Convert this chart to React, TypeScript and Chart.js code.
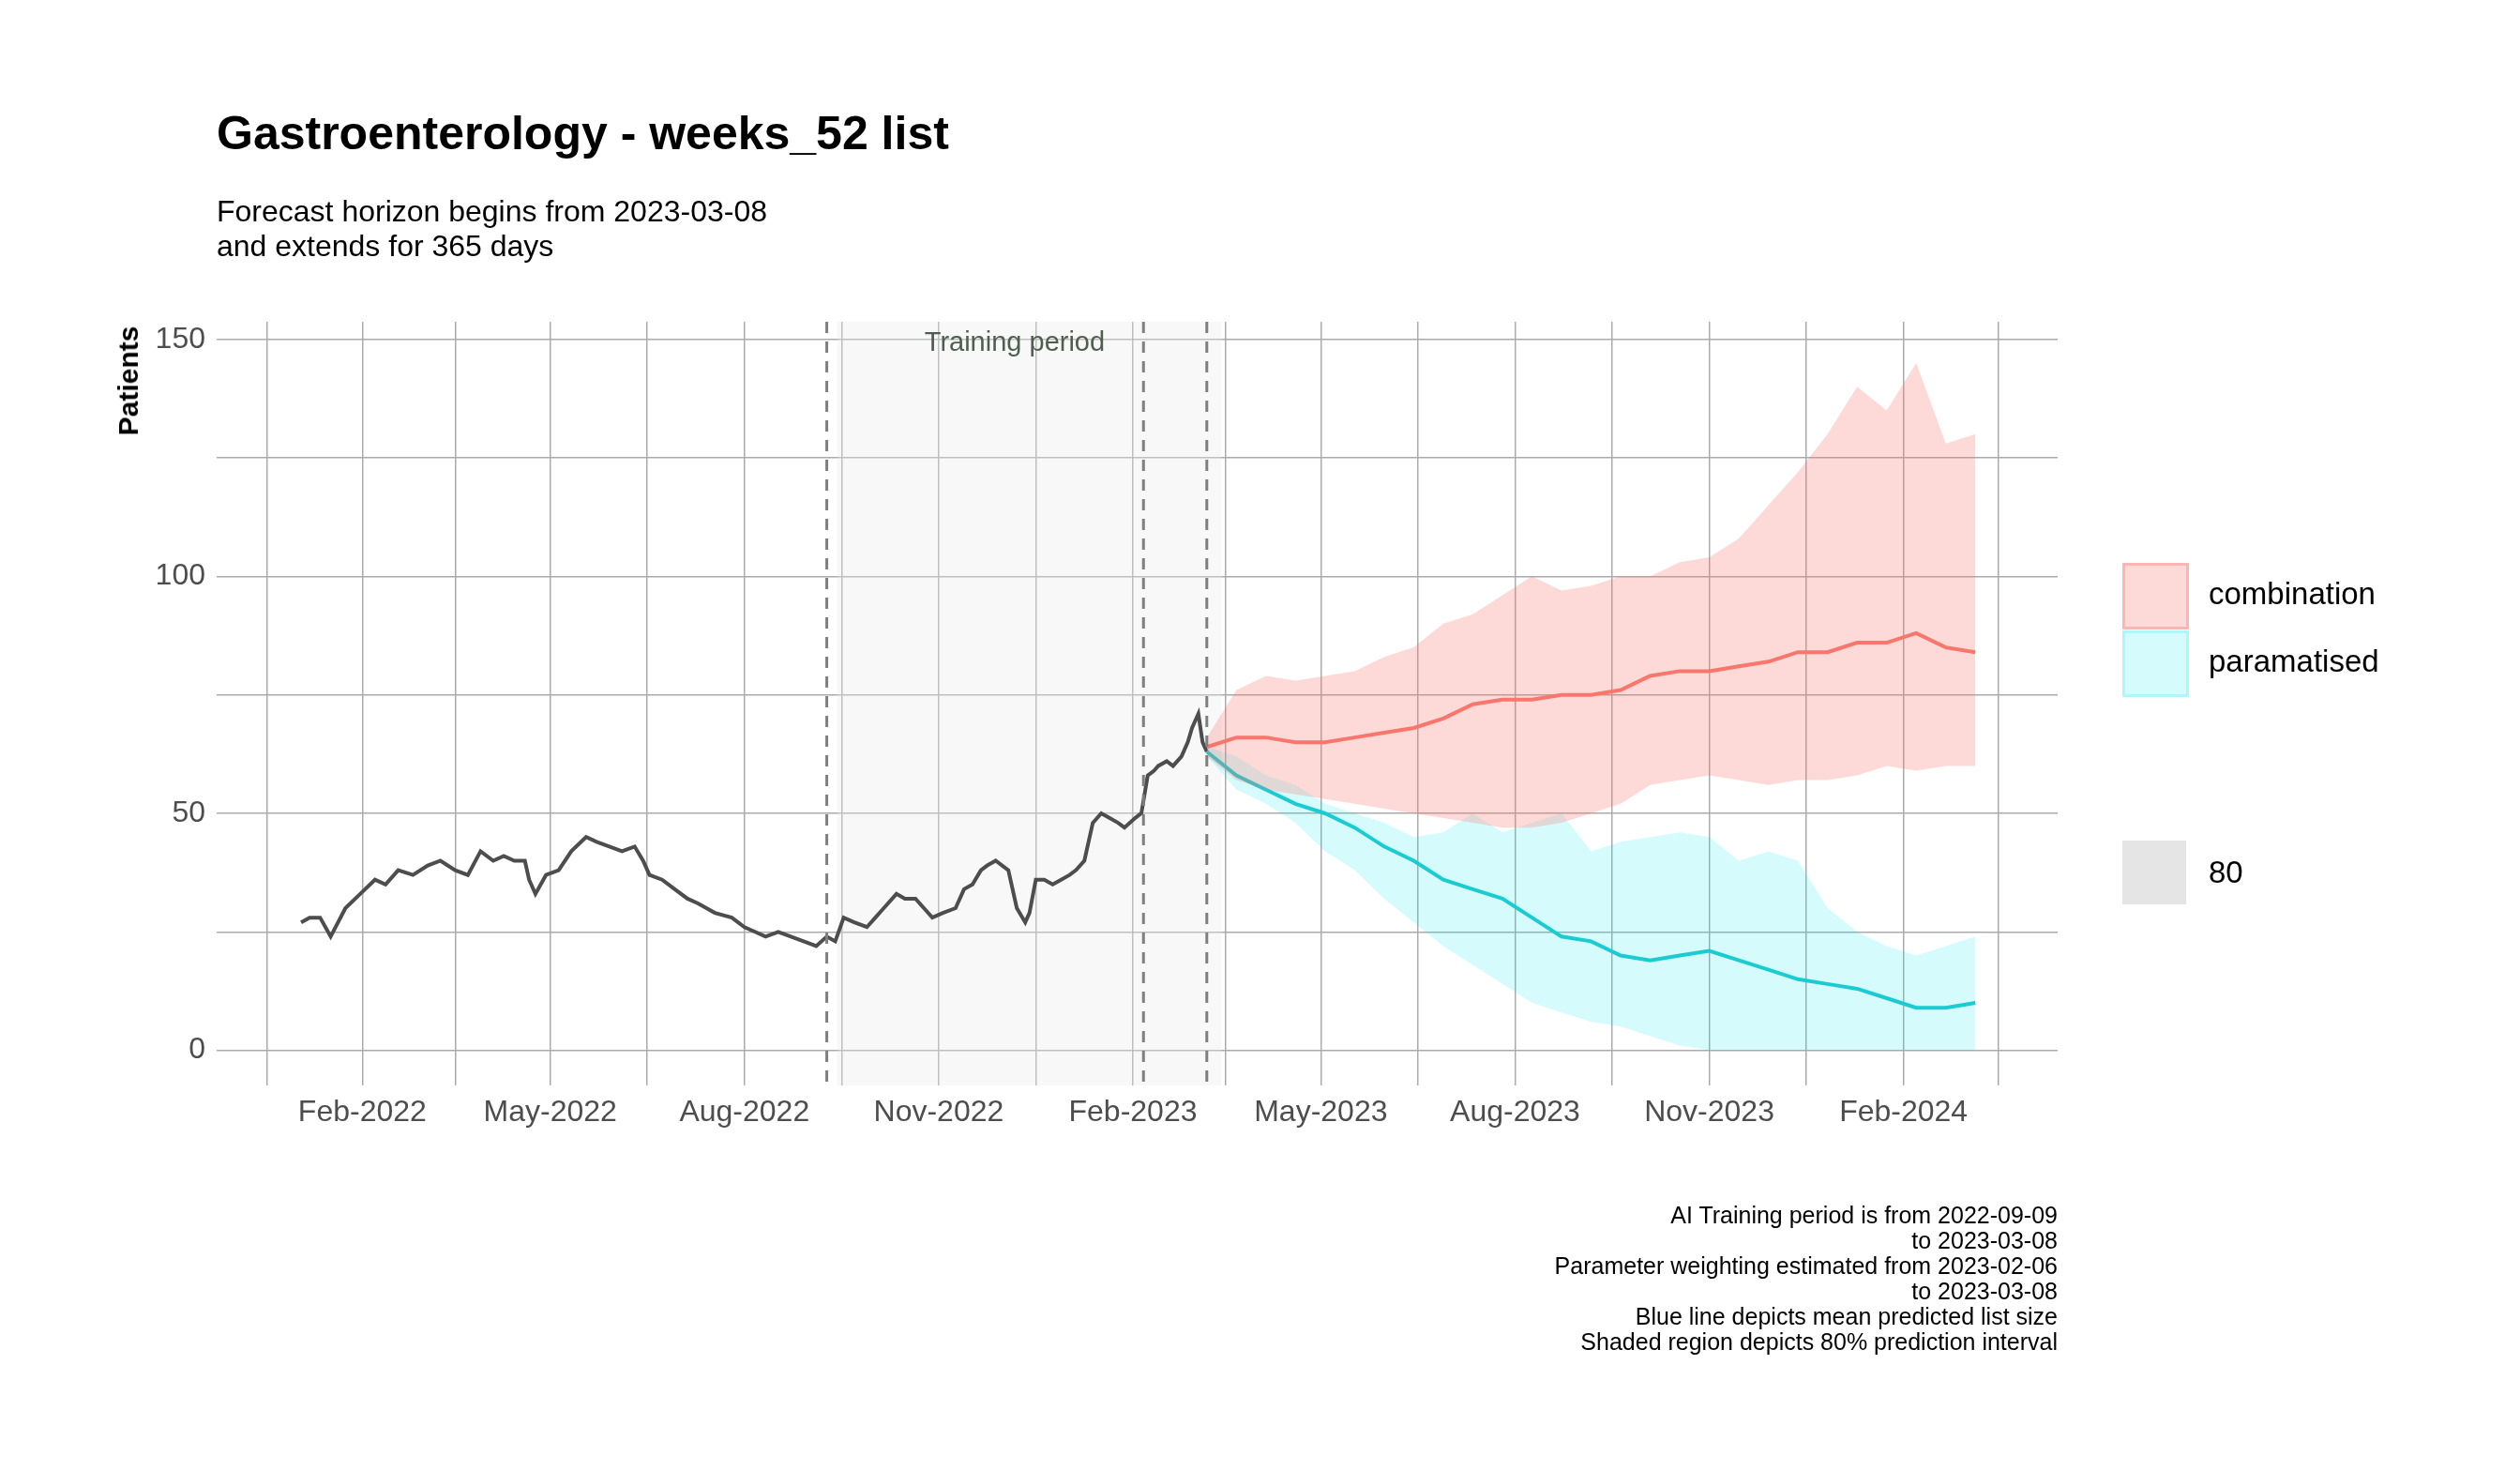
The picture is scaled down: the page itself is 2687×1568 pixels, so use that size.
import React, { useEffect, useRef } from "react";
import { Chart, registerables } from "chart.js";
Chart.register(...registerables);

// day 0 = 2022-01-01
const histDays = [2,6,11,16,23,30,37,42,48,55,62,68,75,81,87,93,98,103,108,110,113,118,124,130,137,142,148,154,160,164,167,173,179,185,190,198,206,212,217,222,228,234,240,246,251,255,259,264,270,274,278,284,288,293,297,301,306,312,316,320,324,327,331,337,341,345,347,350,354,358,362,366,369,373,377,381,385,389,392,397,400,403,406,408,412,415,419,422,424,427,429,431];
const histVals = [27,28,28,24,30,33,36,35,38,37,39,40,38,37,42,40,41,40,40,36,33,37,38,42,45,44,43,42,43,40,37,36,34,32,31,29,28,26,25,24,25,24,23,22,24,23,28,27,26,28,30,33,32,32,30,28,29,30,34,35,38,39,40,38,30,27,29,36,36,35,36,37,38,40,48,50,49,48,47,49,50,58,59,60,61,60,62,65,68,71,65,63];

const fcDays = [431,445,459,473,487,501,515,529,543,557,571,585,599,613,627,641,655,669,683,697,711,725,739,753,767,781,795];
const combMean = [64,66,66,65,65,66,67,68,70,73,74,74,75,75,76,79,80,80,81,82,84,84,86,86,88,85,84];
const combUpper = [66,76,79,78,79,80,83,85,90,92,96,100,97,98,100,100,103,104,108,115,122,130,140,135,145,128,130];
const combLower = [62,57,55,54,53,52,51,50,49,48,47,47,48,50,52,56,57,58,57,56,57,57,58,60,59,60,60];
const paramMean = [63,58,55,52,50,47,43,40,36,34,32,28,24,23,20,19,20,21,19,17,15,14,13,11,9,9,10];
const paramUpper = [64,62,58,56,52,50,48,45,46,50,46,48,50,42,44,45,46,45,40,42,40,30,25,22,20,22,24];
const paramLower = [62,55,52,48,42,38,32,27,22,18,14,10,8,6,5,3,1,0,0,0,0,0,0,0,0,0,0];

const majorTicks = [31,120,212,304,396,485,577,669,761];
const majorLabels = ["Feb-2022","May-2022","Aug-2022","Nov-2022","Feb-2023","May-2023","Aug-2023","Nov-2023","Feb-2024"];
const minorTicks = [-14,75,166,258,350,440,531,623,715,806];
const yTicks = [0,25,50,75,100,125,150];
const dashedDays = [251,401,431];
const shadeRange = [256,438];

const pts = (xs: number[], ys: number[]) => xs.map((x, i) => ({ x, y: ys[i] }));

const overlay = {
  id: "overlay",
  beforeDatasetsDraw(chart: any) {
    const { ctx, chartArea: a, scales } = chart;
    const x = scales.x;
    ctx.save();
    ctx.fillStyle = "rgba(235,235,235,0.33)";
    const x0 = x.getPixelForValue(shadeRange[0]), x1 = x.getPixelForValue(shadeRange[1]);
    ctx.fillRect(x0, a.top, x1 - x0, a.bottom - a.top);
    ctx.restore();
  },
  afterDatasetsDraw(chart: any) {
    const { ctx, chartArea: a, scales } = chart;
    const x = scales.x;
    ctx.save();
    ctx.strokeStyle = "#7f7f7f";
    ctx.lineWidth = 3;
    ctx.setLineDash([12, 9]);
    dashedDays.forEach((d) => {
      const px = x.getPixelForValue(d);
      ctx.beginPath(); ctx.moveTo(px, a.top); ctx.lineTo(px, a.bottom); ctx.stroke();
    });
    ctx.setLineDash([]);
    ctx.fillStyle = "#4f5f4f";
    ctx.font = "29px Arial, 'Liberation Sans'";
    ctx.textAlign = "center";
    ctx.textBaseline = "top";
    ctx.fillText("Training period", x.getPixelForValue(340), a.top + 8);
    ctx.restore();
  },
};

export default function App() {
  const ref = useRef<HTMLCanvasElement>(null);
  useEffect(() => {
    document.body.style.margin = "0";
    const font = "Arial, 'Liberation Sans', sans-serif";
    const chart = new Chart(ref.current!, {
      type: "line",
      data: {
        datasets: [
          { data: pts(fcDays, combUpper), borderWidth: 0, pointRadius: 0, fill: false, backgroundColor: "rgba(248,118,109,0.27)" },
          { data: pts(fcDays, combLower), borderWidth: 0, pointRadius: 0, fill: "-1", backgroundColor: "rgba(248,118,109,0.27)" },
          { data: pts(fcDays, paramUpper), borderWidth: 0, pointRadius: 0, fill: false, backgroundColor: "rgba(0,230,240,0.16)" },
          { data: pts(fcDays, paramLower), borderWidth: 0, pointRadius: 0, fill: "-1", backgroundColor: "rgba(0,230,240,0.16)" },
          { data: pts(fcDays, combMean), borderColor: "#f8766d", borderWidth: 4, pointRadius: 0, fill: false },
          { data: pts(fcDays, paramMean), borderColor: "#1fc8cc", borderWidth: 4, pointRadius: 0, fill: false },
          { data: pts(histDays, histVals), borderColor: "#4d4d4d", borderWidth: 4, pointRadius: 0, fill: false },
        ],
      },
      options: {
        animation: false,
        responsive: false,
        devicePixelRatio: 1,
        layout: { padding: { left: 131, right: 493, top: 343, bottom: 311 } },
        plugins: { legend: { display: false }, tooltip: { enabled: false } },
        scales: {
          x: {
            type: "linear", min: -38, max: 834,
            border: { display: false },
            grid: { color: "#ababab", lineWidth: 1.5, drawTicks: false },
            afterBuildTicks: (s: any) => {
              s.ticks = [...majorTicks, ...minorTicks].sort((a, b) => a - b).map((v) => ({ value: v }));
            },
            afterFit: (s: any) => { s.height = 100; },
            ticks: {
              autoSkip: false, maxRotation: 0, padding: 10, color: "#4d4d4d",
              font: { size: 32, family: font },
              callback: (v: any) => { const i = majorTicks.indexOf(v); return i >= 0 ? majorLabels[i] : ""; },
            },
          },
          y: {
            min: -7.4, max: 153.7,
            border: { display: false },
            grid: { color: "#ababab", lineWidth: 1.5, drawTicks: false },
            afterBuildTicks: (s: any) => { s.ticks = yTicks.map((v) => ({ value: v })); },
            afterFit: (s: any) => { s.width = 100; },
            ticks: {
              padding: 12, color: "#4d4d4d", font: { size: 32, family: font },
              callback: (v: any) => (v % 50 === 0 ? String(v) : ""),
            },
          },
        },
      } as any,
      plugins: [overlay],
    });
    return () => chart.destroy();
  }, []);

  const f = "Arial, 'Liberation Sans', sans-serif";
  const abs = (s: any) => ({ position: "absolute", fontFamily: f, ...s } as React.CSSProperties);
  const cap = ["AI Training period is from 2022-09-09", "to 2023-03-08", "Parameter weighting estimated from 2023-02-06", "to 2023-03-08", "Blue line depicts mean predicted list size", "Shaded region depicts 80% prediction interval"];
  return (
    <div style={{ position: "relative", width: 2687, height: 1568, background: "#fff" }}>
      <canvas ref={ref} width={2687} height={1568} style={{ position: "absolute", left: 0, top: 0, width: 2687, height: 1568 }} />
      <div style={abs({ left: 231, top: 113, fontSize: 50, fontWeight: "bold" })}>Gastroenterology - weeks_52 list</div>
      <div style={abs({ left: 231, top: 207, fontSize: 32, lineHeight: "37px" })}>Forecast horizon begins from 2023-03-08<br />and extends for 365 days</div>
      <div style={abs({ left: 137, top: 406, fontSize: 30, fontWeight: "bold", transform: "translate(-50%,-50%) rotate(-90deg)" })}>Patients</div>
      <div style={abs({ left: 2263, top: 600, width: 65, height: 65, background: "rgba(248,118,109,0.27)", border: "3px solid rgba(248,118,109,0.35)" })} />
      <div style={abs({ left: 2263, top: 672, width: 65, height: 65, background: "rgba(0,230,240,0.16)", border: "3px solid rgba(0,230,240,0.2)" })} />
      <div style={abs({ left: 2263, top: 896, width: 68, height: 68, background: "#e5e5e5" })} />
      <div style={abs({ left: 2355, top: 614, fontSize: 33 })}>combination</div>
      <div style={abs({ left: 2355, top: 686, fontSize: 33 })}>paramatised</div>
      <div style={abs({ left: 2355, top: 911, fontSize: 33 })}>80</div>
      <div style={abs({ right: 2687 - 2194, top: 1282, fontSize: 25, lineHeight: "27.1px", textAlign: "right" })}>
        {cap.map((c, i) => <div key={i}>{c}</div>)}
      </div>
    </div>
  );
}
